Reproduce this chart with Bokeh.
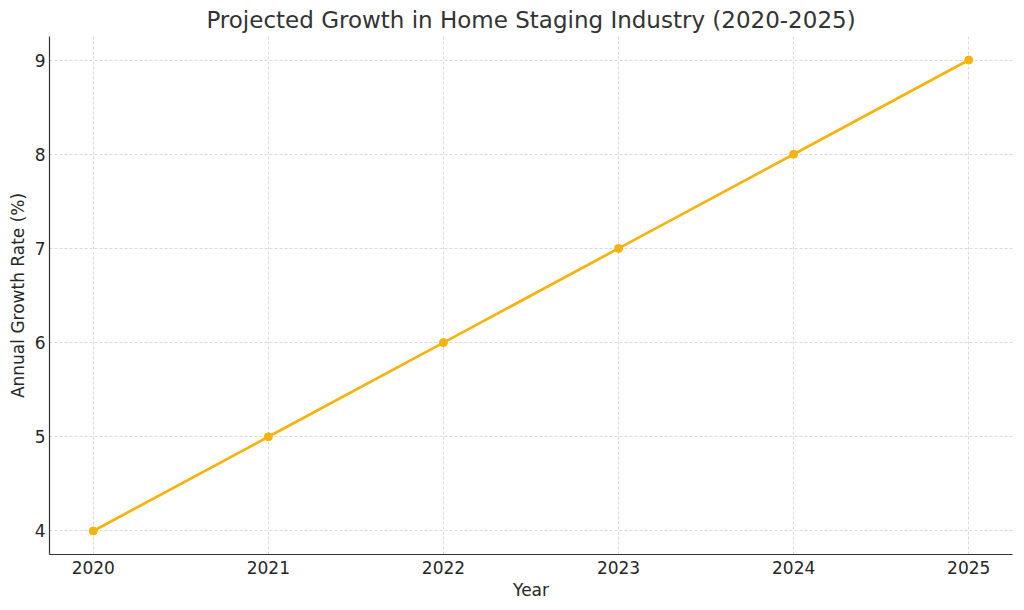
from bokeh.plotting import figure
from bokeh.embed import file_html
from bokeh.resources import INLINE
from bokeh.models import Range1d, FixedTicker

years = [2020, 2021, 2022, 2023, 2024, 2025]
growth = [4, 5, 6, 7, 8, 9]
y_ticks = [4, 5, 6, 7, 8, 9]

p = figure(width=1020, height=606, output_backend="svg", toolbar_location=None,
           x_range=Range1d(2019.75, 2025.25), y_range=Range1d(3.75, 9.25),
           min_border_left=49, min_border_right=8, min_border_top=0, min_border_bottom=52)

p.title.text = "Projected Growth in Home Staging Industry (2020-2025)"
p.title.align = "center"
p.title.text_font = "DejaVu Sans"
p.title.text_font_size = "23px"
p.title.text_font_style = "normal"
p.title.text_color = "#333333"
p.title.standoff = 8

p.line(years, growth, line_color="#f4b30f", line_width=2.7)
p.scatter(years, growth, size=8, fill_color="#f4b30f", line_color="#f4b30f")

p.outline_line_color = None
for ax in (p.xaxis, p.yaxis):
    ax.axis_line_color = "#333333"
    ax.axis_line_width = 1.2
    ax.major_tick_out = 0
    ax.major_tick_in = 0
    ax.minor_tick_out = 0
    ax.minor_tick_in = 0
    ax.major_label_text_font = "DejaVu Sans"
    ax.major_label_text_font_size = "17px"
    ax.major_label_text_color = "#262626"
    ax.axis_label_text_font = "DejaVu Sans"
    ax.axis_label_text_font_size = "17px"
    ax.axis_label_text_font_style = "normal"
    ax.axis_label_text_color = "#262626"

p.xaxis.ticker = FixedTicker(ticks=years)
p.yaxis.ticker = FixedTicker(ticks=y_ticks)
p.xaxis.axis_label = "Year"
p.yaxis.axis_label = "Annual Growth Rate (%)"
p.xaxis.major_label_standoff = 6
p.yaxis.major_label_standoff = 4
p.xaxis.axis_label_standoff = 3
p.yaxis.axis_label_standoff = 4

for g in (p.xgrid, p.ygrid):
    g.grid_line_color = "#d0d0d0"
    g.grid_line_dash = "3 2"
    g.grid_line_width = 0.8

open("out.html", "w").write(file_html(p, INLINE))
